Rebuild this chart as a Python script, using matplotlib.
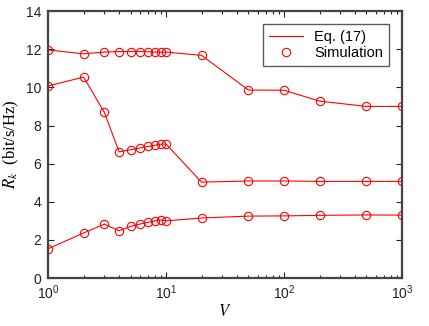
import matplotlib
matplotlib.use("Agg")
import matplotlib.pyplot as plt
from matplotlib.ticker import LogLocator, NullFormatter

V = [1, 2, 3, 4, 5, 6, 7, 8, 9, 10, 20, 50, 100, 200, 500, 1000]
top = [11.96, 11.76, 11.85, 11.88, 11.88, 11.88, 11.87, 11.85, 11.85, 11.85, 11.68, 9.86, 9.85, 9.28, 9.0, 9.0]
mid = [10.07, 10.54, 8.69, 6.62, 6.73, 6.82, 6.9, 6.96, 7.02, 7.03, 5.03, 5.09, 5.09, 5.07, 5.07, 5.07]
bot = [1.54, 2.36, 2.83, 2.48, 2.71, 2.83, 2.92, 3.0, 3.05, 3.0, 3.15, 3.25, 3.26, 3.29, 3.31, 3.3]

plt.rcParams['font.family'] = ['Liberation Sans', 'DejaVu Sans']
plt.rcParams['mathtext.fontset'] = 'stix'

fig = plt.figure(figsize=(4.29, 3.26), dpi=100)
ax = fig.add_axes([0.112, 0.147, 0.825, 0.819])

red = '#ff0000'
for i, s in enumerate([top, mid, bot]):
    ax.plot(V, s, '-', color=red, lw=0.8, label='Eq. (17)' if i == 0 else None)
    ax.plot(V, s, 'o', color=red, mfc='none', ms=6, mew=0.8,
            label='Simulation' if i == 0 else None)

ax.set_xscale('log')
ax.set_xlim(1, 1000)
ax.set_ylim(0, 14)
ax.set_yticks([0, 2, 4, 6, 8, 10, 12, 14])
ax.xaxis.set_minor_locator(LogLocator(base=10, subs=range(2, 10)))
ax.xaxis.set_minor_formatter(NullFormatter())

ax.tick_params(which='both', direction='in', top=True, right=True, labelsize=10, colors='#222222')
ax.tick_params(which='major', length=4, width=0.8)
ax.tick_params(which='minor', length=2, width=0.8)
ax.tick_params(axis='x', which='major', pad=3.5)
ax.tick_params(axis='y', which='major', pad=5)
for sp in ax.spines.values():
    sp.set_color('#444444')
    sp.set_linewidth(1.6)

ax.set_xlabel('$V$', fontsize=12, family='Liberation Serif', labelpad=2)
ax.set_ylabel('$R_k$  (bit/s/Hz)', fontsize=12, family='Liberation Serif', labelpad=3)

leg = ax.legend(loc='upper right', bbox_to_anchor=(0.963, 0.951), borderaxespad=0,
                fancybox=False, edgecolor='#333333', fontsize=10.5, handlelength=2.3,
                borderpad=0.4, labelspacing=0.15, handletextpad=0.8)
leg.get_frame().set_linewidth(1.0)

fig.savefig('out.png', dpi=100)
